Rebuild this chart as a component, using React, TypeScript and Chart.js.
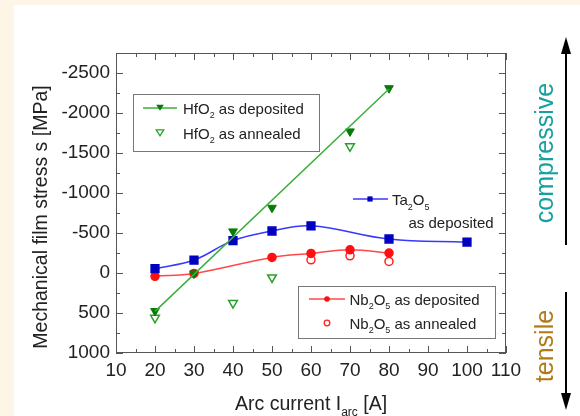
import React, { useEffect, useRef } from 'react';
import { Chart, registerables } from 'chart.js';

Chart.register(...registerables);

// ---- data ----
const hfDepX = [20, 30, 40, 50, 70, 80];
const hfDepY = [475, 5, -520, -815, -1770, -2310];
const hfFitX = [20, 80];
const hfFitY = [480, -2300];
const hfAnnX = [20, 40, 50, 70];
const hfAnnY = [560, 375, 55, -1583];
const taX = [20, 30, 40, 50, 60, 80, 100];
const taY = [-55, -162, -405, -525, -590, -425, -387];
const nbDepX = [20, 30, 50, 60, 70, 80];
const nbDepY = [42, 5, -195, -245, -290, -250];
const nbAnnX = [60, 70, 80];
const nbAnnY = [-165, -215, -145];

const xTicks = [10, 20, 30, 40, 50, 60, 70, 80, 90, 100, 110];
const yTicks = [-2500, -2000, -1500, -1000, -500, 0, 500, 1000];
const xMinor = [15, 25, 35, 45, 55, 65, 75, 85, 95, 105];
const yMinor = [-2250, -1750, -1250, -750, -250, 250, 750];

const FONT = "'Liberation Sans', Arial, sans-serif";

const C = {
  hfLine: '#3cae3c',
  hfMark: '#087a08',
  hfAnn: '#28a028',
  taLine: '#3838ff',
  taMark: '#0000c0',
  nbLine: '#ff4848',
  nbMark: '#ff1010',
  nbAnn: '#ff2020',
  frame: '#555555',
  text: '#222222',
  comp: '#16a0a0',
  tens: '#b07a14',
};

const pts = (xs: number[], ys: number[]) => xs.map((x, i) => ({ x, y: ys[i] }));

type Part = [string, boolean];

function drawRich(ctx: CanvasRenderingContext2D, parts: Part[], x: number, y: number, size: number) {
  let cx = x;
  ctx.textAlign = 'left';
  ctx.textBaseline = 'alphabetic';
  for (const [t, sub] of parts) {
    const s = sub ? Math.round(size * 0.62) : size;
    ctx.font = `${s}px ${FONT}`;
    ctx.fillText(t, cx, sub ? y + size * 0.3 : y);
    cx += ctx.measureText(t).width;
  }
  return cx;
}

function marker(ctx: CanvasRenderingContext2D, kind: string, x: number, y: number, r: number, color: string) {
  ctx.save();
  ctx.fillStyle = color;
  ctx.strokeStyle = color;
  ctx.lineWidth = 1.3;
  ctx.beginPath();
  if (kind === 'tri' || kind === 'triO') {
    const w = r * 0.95;
    ctx.moveTo(x - w, y - r * 0.55);
    ctx.lineTo(x + w, y - r * 0.55);
    ctx.lineTo(x, y + r * 0.95);
    ctx.closePath();
  } else if (kind === 'sq') {
    ctx.rect(x - r, y - r, 2 * r, 2 * r);
  } else {
    ctx.arc(x, y, r, 0, Math.PI * 2);
  }
  if (kind === 'triO' || kind === 'cirO') ctx.stroke();
  else ctx.fill();
  ctx.restore();
}

function legendLine(ctx: CanvasRenderingContext2D, x1: number, x2: number, y: number, color: string) {
  ctx.save();
  ctx.strokeStyle = color;
  ctx.lineWidth = 1.5;
  ctx.beginPath();
  ctx.moveTo(x1, y);
  ctx.lineTo(x2, y);
  ctx.stroke();
  ctx.restore();
}

const decor = {
  id: 'decor',
  afterDraw(chart: any) {
    const ctx: CanvasRenderingContext2D = chart.ctx;
    const { left, right, top, bottom } = chart.chartArea;
    const xs = chart.scales.x;
    const ys = chart.scales.y;
    ctx.save();

    // frame
    ctx.strokeStyle = C.frame;
    ctx.lineWidth = 1;
    ctx.strokeRect(left + 0.5, top + 0.5, right - left - 1, bottom - top - 1);

    // inward ticks
    ctx.beginPath();
    const tx = (v: number, len: number) => {
      const p = Math.round(xs.getPixelForValue(v)) + 0.5;
      ctx.moveTo(p, bottom);
      ctx.lineTo(p, bottom - len);
      ctx.moveTo(p, top);
      ctx.lineTo(p, top + len);
    };
    const ty = (v: number, len: number) => {
      const p = Math.round(ys.getPixelForValue(v)) + 0.5;
      ctx.moveTo(left, p);
      ctx.lineTo(left + len, p);
      ctx.moveTo(right, p);
      ctx.lineTo(right - len, p);
    };
    xTicks.forEach((v) => tx(v, 7));
    xMinor.forEach((v) => tx(v, 4));
    yTicks.forEach((v) => ty(v, 7));
    yMinor.forEach((v) => ty(v, 4));
    ctx.stroke();

    ctx.fillStyle = C.text;

    // y title
    ctx.save();
    ctx.translate(47, 217);
    ctx.rotate(-Math.PI / 2);
    ctx.font = `19.5px ${FONT}`;
    ctx.textAlign = 'center';
    ctx.textBaseline = 'alphabetic';
    ctx.fillText('Mechanical film stress s [MPa]', 0, 0);
    ctx.restore();

    // x title
    drawRich(ctx, [['Arc current I', false], ['arc', true], [' [A]', false]], 235, 410, 19.5);

    // legend HfO2
    ctx.fillStyle = '#ffffff';
    ctx.fillRect(133.5, 94.5, 186, 57);
    ctx.strokeStyle = '#777777';
    ctx.lineWidth = 1;
    ctx.strokeRect(133.5, 94.5, 186, 57);
    legendLine(ctx, 143, 177, 108, C.hfLine);
    marker(ctx, 'tri', 160, 107, 4, C.hfMark);
    marker(ctx, 'triO', 160, 132, 4, C.hfAnn);
    ctx.fillStyle = C.text;
    drawRich(ctx, [['HfO', false], ['2', true], [' as deposited', false]], 183, 113.5, 15);
    drawRich(ctx, [['HfO', false], ['2', true], [' as annealed', false]], 183, 138.5, 15);

    // legend Nb2O5
    ctx.fillStyle = '#ffffff';
    ctx.fillRect(298.5, 286.5, 197, 52);
    ctx.strokeStyle = '#777777';
    ctx.strokeRect(298.5, 286.5, 197, 52);
    legendLine(ctx, 309, 345, 299, C.nbLine);
    marker(ctx, 'cir', 327, 299, 2.8, C.nbMark);
    marker(ctx, 'cirO', 327, 323, 2.8, C.nbAnn);
    ctx.fillStyle = C.text;
    drawRich(ctx, [['Nb', false], ['2', true], ['O', false], ['5', true], [' as deposited', false]], 349.5, 304.5, 15);
    drawRich(ctx, [['Nb', false], ['2', true], ['O', false], ['5', true], [' as annealed', false]], 349.5, 328.5, 15);

    // Ta2O5 label
    legendLine(ctx, 353, 388, 199, C.taLine);
    marker(ctx, 'sq', 370, 199, 2.6, C.taMark);
    ctx.fillStyle = C.text;
    drawRich(ctx, [['Ta', false], ['2', true], ['O', false], ['5', true]], 392, 205, 15);
    drawRich(ctx, [['as deposited', false]], 408.5, 227.5, 15);

    // right side labels
    ctx.save();
    ctx.font = `25px ${FONT}`;
    ctx.textAlign = 'center';
    ctx.textBaseline = 'alphabetic';
    ctx.translate(553, 153);
    ctx.rotate(-Math.PI / 2);
    ctx.fillStyle = C.comp;
    ctx.fillText('compressive', 0, 0);
    ctx.restore();
    ctx.save();
    ctx.font = `25px ${FONT}`;
    ctx.textAlign = 'center';
    ctx.textBaseline = 'alphabetic';
    ctx.translate(553, 346);
    ctx.rotate(-Math.PI / 2);
    ctx.fillStyle = C.tens;
    ctx.fillText('tensile', 0, 0);
    ctx.restore();

    // arrows
    ctx.strokeStyle = '#000000';
    ctx.fillStyle = '#000000';
    ctx.lineWidth = 2;
    ctx.beginPath();
    ctx.moveTo(566, 245);
    ctx.lineTo(566, 50);
    ctx.moveTo(566, 292);
    ctx.lineTo(566, 397);
    ctx.stroke();
    ctx.beginPath();
    ctx.moveTo(566, 37);
    ctx.lineTo(571, 54);
    ctx.lineTo(561, 54);
    ctx.closePath();
    ctx.fill();
    ctx.beginPath();
    ctx.moveTo(566, 410);
    ctx.lineTo(571, 393);
    ctx.lineTo(561, 393);
    ctx.closePath();
    ctx.fill();

    ctx.restore();
  },
};

export default function App() {
  const ref = useRef<HTMLCanvasElement>(null);

  useEffect(() => {
    if (!ref.current) return;
    const chart = new Chart(ref.current, {
      type: 'line',
      data: {
        datasets: [
          {
            label: 'HfO2 fit',
            data: pts(hfFitX, hfFitY),
            borderColor: C.hfLine,
            borderWidth: 1.5,
            pointRadius: 0,
            tension: 0,
          },
          {
            label: 'HfO2 as deposited',
            data: pts(hfDepX, hfDepY),
            showLine: false,
            pointStyle: 'triangle',
            pointRotation: 180,
            pointRadius: 5,
            backgroundColor: C.hfMark,
            borderColor: C.hfMark,
            borderWidth: 1,
          },
          {
            label: 'HfO2 as annealed',
            data: pts(hfAnnX, hfAnnY),
            showLine: false,
            pointStyle: 'triangle',
            pointRotation: 180,
            pointRadius: 5,
            backgroundColor: 'rgba(0,0,0,0)',
            borderColor: C.hfAnn,
            borderWidth: 1.5,
          },
          {
            label: 'Ta2O5 as deposited',
            data: pts(taX, taY),
            borderColor: C.taLine,
            borderWidth: 1.5,
            tension: 0.4,
            pointStyle: 'rect',
            pointRadius: 5.5,
            pointBackgroundColor: C.taMark,
            pointBorderColor: C.taMark,
          },
          {
            label: 'Nb2O5 as deposited',
            data: pts(nbDepX, nbDepY),
            borderColor: C.nbLine,
            borderWidth: 1.5,
            tension: 0.4,
            pointStyle: 'circle',
            pointRadius: 4,
            pointBackgroundColor: C.nbMark,
            pointBorderColor: C.nbMark,
          },
          {
            label: 'Nb2O5 as annealed',
            data: pts(nbAnnX, nbAnnY),
            showLine: false,
            pointStyle: 'circle',
            pointRadius: 4,
            backgroundColor: 'rgba(0,0,0,0)',
            borderColor: C.nbAnn,
            borderWidth: 1.5,
          },
        ],
      },
      options: {
        animation: false,
        responsive: false,
        devicePixelRatio: 1,
        layout: { padding: { left: 0, right: 74, top: 53, bottom: 0 } },
        plugins: { legend: { display: false }, tooltip: { enabled: false } },
        scales: {
          x: {
            type: 'linear',
            min: 10,
            max: 110,
            grid: { display: false, drawTicks: false },
            border: { display: false },
            afterBuildTicks: (s: any) => {
              s.ticks = xTicks.map((v) => ({ value: v }));
            },
            afterFit: (s: any) => {
              s.height = 63;
            },
            ticks: {
              padding: 6,
              maxRotation: 0,
              autoSkip: false,
              color: C.text,
              font: { family: FONT, size: 19 },
              callback: (v: any) => String(v),
            },
          },
          y: {
            type: 'linear',
            reverse: true,
            min: -2750,
            max: 1000,
            grid: { display: false, drawTicks: false },
            border: { display: false },
            afterBuildTicks: (s: any) => {
              s.ticks = yTicks.map((v) => ({ value: v }));
            },
            afterFit: (s: any) => {
              s.width = 116;
            },
            ticks: {
              padding: 6,
              autoSkip: false,
              color: C.text,
              font: { family: FONT, size: 19 },
              callback: (v: any) => String(v),
            },
          },
        },
      },
      plugins: [decor],
    });
    return () => chart.destroy();
  }, []);

  return (
    <div style={{ position: 'absolute', left: 0, top: 0, width: 580, height: 416, background: '#fdf6e6', overflow: 'hidden' }}>
      <div style={{ position: 'absolute', left: 14, top: 5, right: 0, bottom: 0, background: '#ffffff' }} />
      <canvas ref={ref} width={580} height={416} style={{ position: 'absolute', left: 0, top: 0, width: 580, height: 416 }} />
    </div>
  );
}
